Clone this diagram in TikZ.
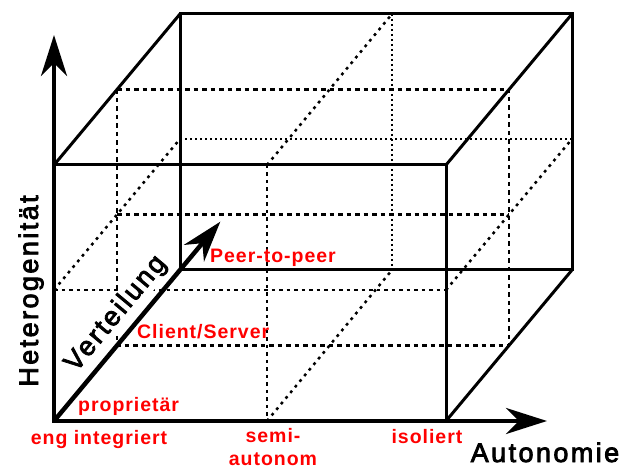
\documentclass[tikz,border=0pt]{standalone}
\usepackage{fontspec}
\setmainfont{Liberation Sans}
\newfontfamily\axisfont[LetterSpace=9, FakeBold=3]{Liberation Sans}
\newfontfamily\levelfont[LetterSpace=5]{Liberation Sans}
\usetikzlibrary{arrows.meta, calc}

\begin{document}
\begin{tikzpicture}[x=1pt, y=-1pt,
  >={Stealth[length=41pt, width=26pt, inset=13pt]},
  edge/.style={line width=3pt, line join=miter},
  axis/.style={line width=4.5pt, line join=miter},
  frontgrid/.style={line width=2.3pt, dash pattern=on 3.5pt off 4pt},
  backgrid/.style={line width=1.9pt, dash pattern=on 2pt off 3pt},
  midgrid/.style={line width=2.3pt, dash pattern=on 4.5pt off 4pt},
  depthgrid/.style={line width=2.5pt, dash pattern=on 2.8pt off 4.5pt},
  axislabel/.style={font=\axisfont\fontsize{27}{31}\selectfont, text=black},
  level/.style={font=\levelfont\bfseries\fontsize{19.5}{23}\selectfont, text=red, inner sep=0pt}
]
\useasboundingbox (0,0) rectangle (633,468);

% cube corners (front face, then back face)
\coordinate (O)   at (54,421);
\coordinate (FR)  at (446,421);
\coordinate (FTL) at (54,165);
\coordinate (FTR) at (446,165);
\coordinate (BL)  at (180,270);
\coordinate (BR)  at (572,270);
\coordinate (BTL) at (180,14);
\coordinate (BTR) at (572,14);

% split points on the faces
\coordinate (FB)  at (267,421);
\coordinate (FT)  at (267,165);
\coordinate (FL)  at (54,290);
\coordinate (FRm) at (446,290);
\coordinate (BB)  at (392,270);
\coordinate (BT)  at (392,14);
\coordinate (BLm) at (180,139);
\coordinate (BRm) at (572,139);

% half depth
\coordinate (MTL) at ($(FTL)!.5!(BTL)$);
\coordinate (MTR) at ($(FTR)!.5!(BTR)$);
\coordinate (MBL) at ($(O)!.5!(BL)$);
\coordinate (MBR) at ($(FR)!.5!(BR)$);
\coordinate (ML)  at ($(FL)!.5!(BLm)$);
\coordinate (MR)  at ($(FRm)!.5!(BRm)$);

% axis ends
\coordinate (ytip) at (54,35);
\coordinate (xtip) at (547,421);
\coordinate (ztip) at ($(O)!1.32!(BL)$);

% grid
\draw[frontgrid] (FT) -- (FB);
\draw[frontgrid] (FL) -- (FRm);
\draw[backgrid] (BT) -- (BB);
\draw[backgrid] (BLm) -- (BRm);
\draw[depthgrid] (FT) -- (BT);
\draw[depthgrid] (FB) -- (BB);
\draw[depthgrid] (FL) -- (BLm);
\draw[depthgrid] (FRm) -- (BRm);
\draw[midgrid] (MTL) -- (MTR) -- (MBR);
\draw[midgrid] (MTL) -- (MBL) -- (MBR);
\draw[midgrid] (ML) -- (MR);

% cube
\draw[edge] (FTL) -- (FTR) -- (FR);
\draw[edge] (BL) rectangle (BTR);
\draw[edge] (FTL) -- (BTL);
\draw[edge] (FTR) -- (BTR);
\draw[edge] (FR) -- (BR);

% axes
\draw[axis, ->] (O) -- node[axislabel, sloped, above=5pt, pos=0.47, fill=white, inner sep=1pt] (vert) {Verteilung} (ztip);
\draw[axis, <->] (ytip) -- (O) -- (xtip);

\node[axislabel, rotate=90, anchor=base] (het) at (38,291) {Heterogenität};
\node[axislabel, anchor=base] (aut) at (545,462) {Autonomie};

% levels
\node[level, anchor=base] (eng) at (99,444) {eng integriert};
\node[level, anchor=base, align=center] (semi) at (273,465) {semi-\\autonom};
\node[level, anchor=base] (iso) at (427,443) {isoliert};
\node[level, anchor=base west] (prop) at (78,411) {proprietär};
\node[level, anchor=base west] (cs) at (137,339) {Client/Server};
\node[level, anchor=base west] (p2p) at (210,263) {Peer-to-peer};
\end{tikzpicture}
\end{document}
